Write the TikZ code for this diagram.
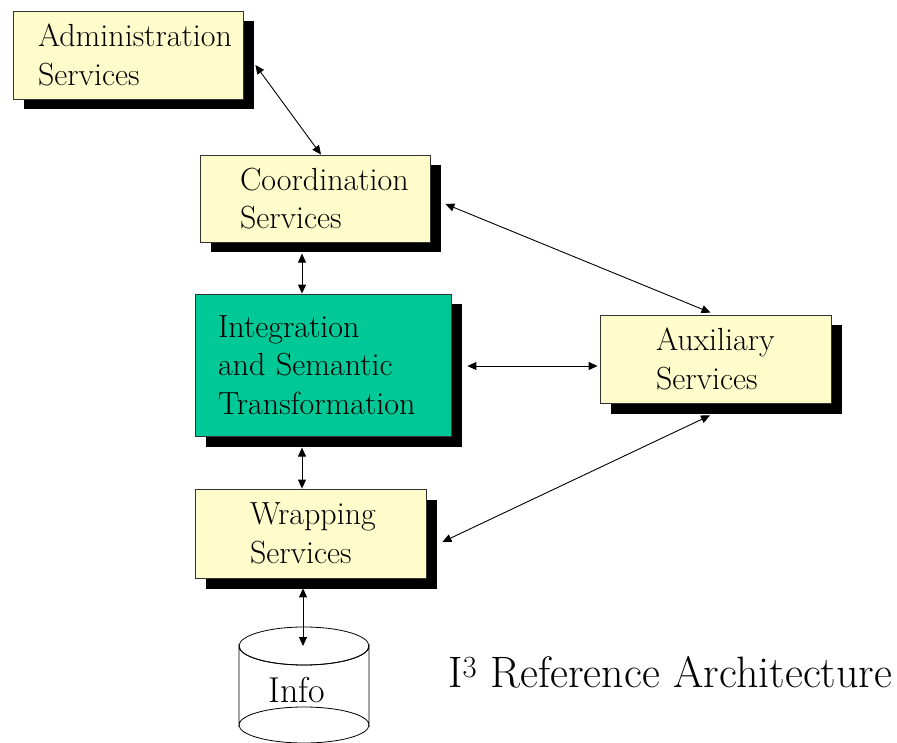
\documentclass[tikz,border=0pt]{standalone}
\usetikzlibrary{arrows.meta,calc,shadows}
\hfuzz=100pt
\hbadness=10000

\begin{document}
\begin{tikzpicture}[
	x=1pt, y=-1pt,
	service/.style={draw=black!80, line width=0.8pt, fill=yellow!20, align=left,
		font=\fontsize{32}{38.5}\selectfont, inner ysep=0pt,
		drop shadow={shadow xshift=10.5pt, shadow yshift=-10.5pt, opacity=1, fill=black}},
	core/.style={service, fill={rgb,255:red,0;green,200;blue,150}},
	link/.style={{Triangle[length=9pt,width=8pt]}-{Triangle[length=9pt,width=8pt]}, line width=0.9pt},
	annotation/.style={font=\fontsize{44}{50}\selectfont, anchor=base west, inner sep=0pt}
	]
	
	\useasboundingbox (0,0) rectangle (897,743);
	
	% --- SERVIZI ---
	\node[service, text width=180pt, inner xsep=25pt, minimum height=88pt] (admin) at (128,55)
		{Administration\\Services};
	\node[service, text width=150pt, inner xsep=40pt, minimum height=87pt] (coord) at (315,198.5)
		{Coordination\\Services};
	\node[core, text width=210pt, inner xsep=23pt, minimum height=142pt] (integ) at (323,365)
		{Integration\\and Semantic\\Transformation};
	\node[service, text width=119pt, inner xsep=56pt, minimum height=88pt] (aux) at (715.5,359)
		{Auxiliary\\Services};
	\node[service, text width=121pt, inner xsep=55pt, minimum height=89pt] (wrap) at (310.5,533.5)
		{Wrapping\\Services};
	
	% --- SORGENTE (cilindro) ---
	\filldraw[fill=white, draw=black, line width=0.8pt]
		(239,646) -- (239,725) arc[start angle=180, end angle=360, x radius=65, y radius=18]
		-- (369,646) arc[start angle=0, end angle=180, x radius=65, y radius=19] -- cycle;
	\draw[line width=0.8pt] (239,725) arc[start angle=180, end angle=0, x radius=65, y radius=18];
	\draw[line width=0.8pt] (304,646) ellipse[x radius=65, y radius=19];
	\node[font=\fontsize{36}{40}\selectfont, anchor=base, inner sep=0pt] (info) at (297,702) {Info};
	\coordinate (infotop) at (303,646);
	
	% --- FRECCE ---
	\draw[link] ($(admin.east)+(12,10)$) -- ($(coord.north)+(6,0)$);
	\draw[link] ($(coord.east)+(15,5.5)$) -- ($(aux.north)+(-5,-2)$);
	\draw[link] ($(integ.north)+(-21,-40)$) -- ([xshift=-21pt]integ.north);
	\draw[link] ($(integ.east)+(16,1)$) -- ($(aux.west)+(-2,7)$);
	\draw[link] ($(wrap.north)+(-8.5,-41)$) -- ([xshift=-8.5pt]wrap.north);
	\draw[link] ($(aux.south)+(-5.5,12)$) -- ($(wrap.east)+(16,8.5)$);
	\draw[link] ($(wrap.south)+(-7.5,10)$) -- (infotop);
	
	% --- TITOLO ---
	\node[annotation] (title) at (448,687) {I\textsuperscript{3} Reference Architecture};
	
\end{tikzpicture}
\end{document}
